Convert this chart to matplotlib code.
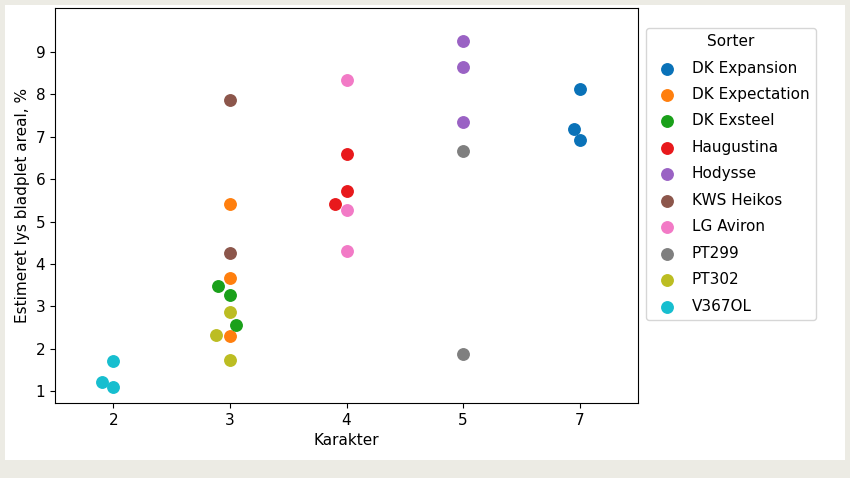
import matplotlib.pyplot as plt
from matplotlib.patches import Rectangle

categories = ["2", "3", "4", "5", "7"]
sorter = ["DK Expansion", "DK Expectation", "DK Exsteel", "Haugustina", "Hodysse",
          "KWS Heikos", "LG Aviron", "PT299", "PT302", "V367OL"]
colors = ["#0a72b8", "#ff7f0e", "#1aa01a", "#e8191c", "#9a62c4",
          "#8c564b", "#f27ac6", "#7f7f7f", "#bcbd22", "#17becf"]
# (karakter, jitter, value) per sort
points = {
    "DK Expansion": [("7", 0.0, 8.12), ("7", -0.05, 7.18), ("7", 0.0, 6.93)],
    "DK Expectation": [("3", 0.0, 5.42), ("3", 0.0, 3.68), ("3", 0.0, 2.30)],
    "DK Exsteel": [("3", -0.1, 3.47), ("3", 0.0, 3.28), ("3", 0.05, 2.55)],
    "Haugustina": [("4", 0.0, 6.60), ("4", 0.0, 5.72), ("4", -0.1, 5.42)],
    "Hodysse": [("5", 0.0, 9.25), ("5", 0.0, 8.65), ("5", 0.0, 7.35)],
    "KWS Heikos": [("3", 0.0, 7.88), ("3", 0.0, 4.25)],
    "LG Aviron": [("4", 0.0, 8.35), ("4", 0.0, 5.27), ("4", 0.0, 4.30)],
    "PT299": [("5", 0.0, 6.67), ("5", 0.0, 1.87)],
    "PT302": [("3", 0.0, 2.87), ("3", -0.12, 2.33), ("3", 0.0, 1.73)],
    "V367OL": [("2", 0.0, 1.70), ("2", -0.1, 1.22), ("2", 0.0, 1.10)],
}

fig = plt.figure(figsize=(8.5, 4.78), dpi=100, facecolor="#ecebe4")
fig.patches.append(Rectangle((5/850, 18/478), 840/850, 455/478, transform=fig.transFigure,
                             facecolor="white", edgecolor="none", zorder=-1))
ax = fig.add_axes([55/850, 75/478, 583/850, 395/478])

for i, name in enumerate(sorter):
    xs = [categories.index(k) + j for k, j, v in points[name]]
    ys = [v for k, j, v in points[name]]
    ax.scatter(xs, ys, s=68, color=colors[i], label=name, zorder=3)

ax.set_xticks(range(len(categories)))
ax.set_xticklabels(categories)
ax.set_xlim(-0.5, 4.5)
ax.set_ylim(0.72, 10.04)
ax.set_yticks(range(1, 10))
ax.tick_params(labelsize=11)
ax.set_xlabel("Karakter", fontsize=11)
ax.set_ylabel("Estimeret lys bladplet areal, %", fontsize=11)
ax.legend(title="Sorter", loc="upper left", bbox_to_anchor=(646/850, 1-28/478),
          bbox_transform=fig.transFigure, fontsize=11, title_fontsize=11,
          borderaxespad=0, handletextpad=0.6, labelspacing=0.75)

fig.savefig("out.png", dpi=100, facecolor=fig.get_facecolor())
